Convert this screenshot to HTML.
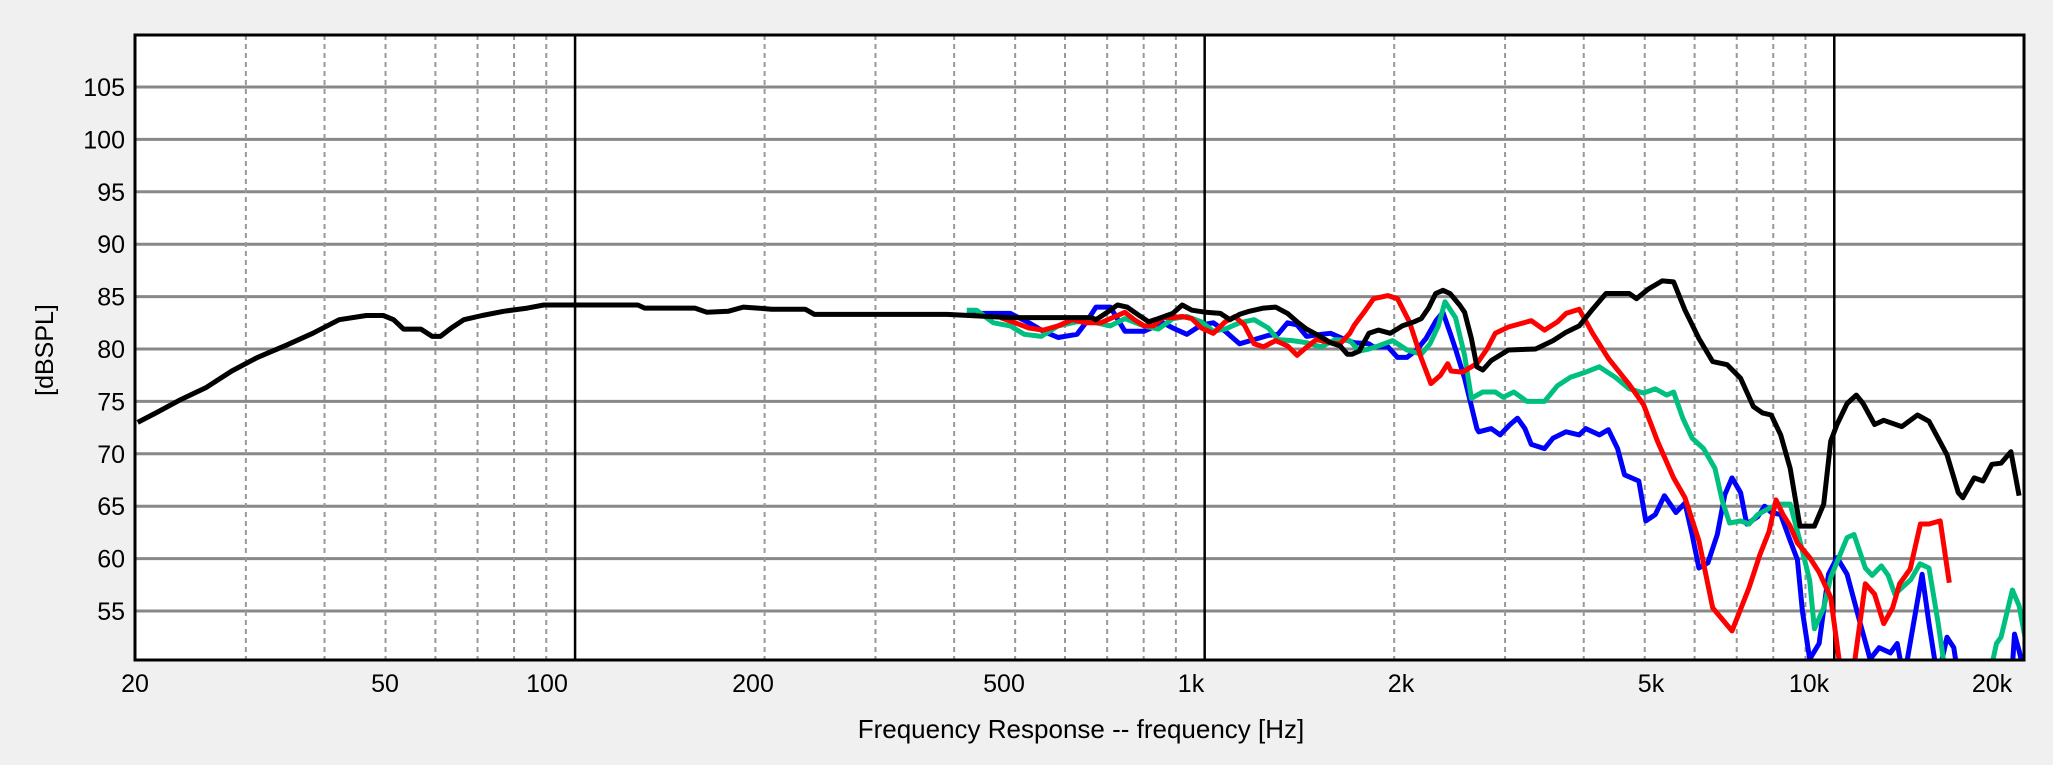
<!DOCTYPE html>
<html><head><meta charset="utf-8"><style>
html,body{margin:0;padding:0;background:#f0f0f0;}
svg{display:block;font-family:"Liberation Sans",sans-serif;}
</style></head><body>
<svg id="chart" width="2053" height="765" viewBox="0 0 2053 765" xmlns="http://www.w3.org/2000/svg">
<rect x="0" y="0" width="2053" height="765" fill="#f0f0f0"/>
<rect x="135" y="35" width="1889" height="625" fill="#fff"/>
<defs><clipPath id="clip"><rect x="135" y="35" width="1889" height="625"/></clipPath></defs>
<g id="grid"></g>
<g id="series" clip-path="url(#clip)"></g>
<rect x="135" y="35" width="1889" height="625" fill="none" stroke="#000" stroke-width="3"/>
<g id="labels" font-size="25" fill="#000"></g>
<text x="1081" y="738" text-anchor="middle" font-size="26">Frequency Response -- frequency [Hz]</text>
<text x="0" y="0" transform="translate(53,350) rotate(-90)" text-anchor="middle" font-size="25">[dBSPL]</text>
</svg>
<script>
const yTicks=[55,60,65,70,75,80,85,90,95,100,105];
const xTickLabels=["20","50","100","200","500","1k","2k","5k","10k","20k"];
const xTickLabelPos=[135,385,547,753,1004,1191,1401,1651,1809,1992];
const minorFreqs=[30,40,50,60,70,80,90,200,300,400,500,600,700,800,900,2000,3000,4000,5000,6000,7000,8000,9000];
const majorFreqs=[100,1000,10000];

const blackF=[20.2,21.6,23.5,25.9,28.5,31.3,34.9,38.3,42.2,46.6,49.6,51.5,53.4,56.9,59.3,61.1,63.6,66.6,71.2,77,84,89.2,125.8,129,155,162,175,185,195,205,232,240,390,491,554,661,672,696,727,753,787,815,844,890,921,954,1005,1059,1097,1136,1177,1240,1296,1354,1402,1452,1504,1585,1641,1685,1715,1760,1823,1888,1972,2060,2151,2208,2267,2328,2369,2390,2453,2540,2587,2652,2706,2765,2853,3037,3355,3576,3750,3935,4132,4340,4726,4852,5060,5330,5557,5794,6096,6410,6760,7100,7440,7690,7940,8220,8510,8820,9300,9620,9870,10100,10480,10840,11110,11590,11980,12800,13560,14140,15100,15740,16000,16680,17230,17800,18400,19080,19660,20150];
const blackV=[73.0,73.9,75.1,76.3,77.9,79.2,80.4,81.5,82.8,83.2,83.2,82.8,81.9,81.9,81.2,81.2,82.0,82.8,83.2,83.6,83.9,84.2,84.2,83.9,83.9,83.5,83.6,84.0,83.9,83.8,83.8,83.3,83.3,83.0,83.0,83.0,82.8,83.4,84.2,84.0,83.2,82.6,82.9,83.4,84.2,83.7,83.5,83.4,82.8,83.3,83.6,83.9,84.0,83.4,82.6,81.9,81.4,80.6,80.3,79.5,79.5,79.8,81.5,81.8,81.5,82.2,82.6,82.9,83.9,85.3,85.5,85.6,85.3,84.2,83.5,81.0,78.3,78.0,78.9,79.9,80.0,80.8,81.6,82.2,83.8,85.3,85.3,84.8,85.7,86.5,86.4,83.7,81.0,78.8,78.5,77.2,74.5,73.9,73.7,71.8,68.6,63.1,63.1,65.2,71.2,72.8,74.8,75.6,74.8,72.8,73.2,72.6,73.7,73.1,69.9,66.3,65.8,67.7,67.4,69.0,69.1,70.2,66.0];

const redF=[474,500,526,554,585,616,649,684,721,747,773,801,829,859,890,921,954,988,1032,1078,1116,1156,1198,1240,1296,1354,1402,1440,1504,1585,1641,1700,1730,1791,1855,1955,2024,2114,2208,2287,2369,2432,2462,2567,2652,2706,2808,2895,3037,3302,3465,3634,3750,3935,4132,4377,4726,4977,5238,5557,5794,6096,6410,6880,7320,7620,7880,8080,8290,8510,8740,9140,9460,9870,10300,10650,11200,11590,11980,12380,12700,13200,13700,14140,14730,15230,15740,16130,16950,17960,18400,19180,19660,20150];
const redV=[83.0,82.5,82.0,81.8,82.2,82.8,82.5,82.5,83.1,83.5,82.8,82.2,82.2,83.0,83.0,83.1,82.9,82.0,81.5,82.6,83.1,82.3,80.5,80.2,80.8,80.3,79.4,80.0,80.9,80.6,80.5,81.5,82.3,83.5,84.8,85.1,84.8,82.6,79.1,76.7,77.5,78.6,77.9,77.8,78.3,78.6,80.0,81.5,82.1,82.7,81.8,82.6,83.4,83.8,81.5,79.1,76.6,74.7,71.2,67.7,65.8,61.7,55.3,53.1,57.2,60.4,62.6,65.6,64.2,63.1,61.5,60.1,58.7,56.3,48.0,48.0,57.6,56.6,53.8,55.3,57.6,59.0,63.3,63.3,63.6,57.7];

const greenF=[419,434,462,491,517,550,585,627,661,708,747,801,844,890,937,988,1032,1078,1136,1198,1262,1307,1378,1452,1530,1613,1700,1760,1823,1888,1989,2096,2208,2280,2350,2408,2503,2587,2652,2765,2895,2980,3097,3250,3465,3634,3810,4031,4234,4490,4726,4977,5196,5418,5557,5746,5945,6200,6465,6640,6820,7100,7320,7560,7880,8220,8510,8820,9140,9300,9620,9870,10480,10750,11200,11490,11880,12180,12480,13230,13680,14140,14610,15100,17520,18100,18400,19180,19660,20150];
const greenV=[83.7,83.7,82.5,82.2,81.4,81.2,82.2,82.6,82.6,82.2,82.9,82.2,81.9,82.9,83.1,82.6,81.7,81.9,82.5,82.8,82.0,80.9,80.8,80.6,80.2,80.9,80.8,79.8,80.0,80.3,80.8,79.9,79.5,80.5,82.2,84.5,83.0,79.4,75.3,75.9,75.9,75.4,75.9,75.0,75.0,76.5,77.3,77.8,78.3,77.3,76.2,75.8,76.2,75.6,75.9,73.4,71.5,70.5,68.6,65.5,63.4,63.6,63.3,64.2,64.8,65.2,65.2,61.7,57.9,53.3,55.3,58.2,62.0,62.3,59.1,58.4,59.3,58.4,56.6,58.0,59.5,59.1,54.0,48.0,48.0,51.9,52.5,57.0,55.5,52.1];

const blueF=[419,474,491,526,554,585,627,649,672,708,747,801,859,890,937,988,1032,1078,1136,1198,1262,1307,1354,1402,1452,1530,1585,1670,1730,1823,1855,1955,2024,2096,2170,2247,2330,2390,2462,2503,2587,2706,2725,2853,2946,3056,3140,3226,3302,3465,3576,3750,3935,4031,4234,4377,4527,4644,4893,5019,5196,5373,5603,5794,5945,6096,6300,6520,6700,6880,7100,7260,7560,7750,7940,8220,8510,8740,8900,9140,9460,9790,10100,10480,11000,11400,11780,12280,12590,12900,13790,14140,14600,15100,15480,15800,19100,19330,19660,20150];
const blueV=[83.4,83.4,83.4,82.5,81.7,81.1,81.4,82.6,84.0,84.0,81.7,81.7,82.5,82.0,81.4,82.3,82.5,81.7,80.5,80.9,81.3,81.4,82.5,82.3,81.2,81.4,81.5,80.9,80.6,80.5,80.2,80.2,79.2,79.2,79.9,81.0,82.7,83.5,81.3,80.0,77.2,72.4,72.1,72.4,71.8,72.8,73.4,72.4,70.9,70.5,71.5,72.1,71.8,72.4,71.8,72.3,70.5,68.0,67.4,63.6,64.2,66.0,64.4,65.3,62.3,59.1,59.6,62.3,66.1,67.7,66.3,63.3,64.0,65.0,64.4,64.2,61.7,59.9,55.0,50.4,51.9,58.5,60.1,58.5,53.8,50.4,51.5,51.0,51.9,48.5,58.5,53.8,48.5,52.5,51.5,48.0,48.0,52.8,51.2,48.5];

const L=135,R=2024,T=35,B=660;
function xs(f){return L+Math.log10(f/20)*629.6;}
function ys(v){return 87+(105-v)*10.48;}
const NS="http://www.w3.org/2000/svg";
const grid=document.getElementById('grid');
yTicks.forEach(v=>{
  const l=document.createElementNS(NS,'line');
  l.setAttribute('x1',L);l.setAttribute('x2',R);l.setAttribute('y1',ys(v));l.setAttribute('y2',ys(v));
  l.setAttribute('stroke','#888');l.setAttribute('stroke-width','3');
  
  
  grid.appendChild(l);
});
minorFreqs.forEach(f=>{
  const l=document.createElementNS(NS,'line');
  l.setAttribute('x1',xs(f));l.setAttribute('x2',xs(f));l.setAttribute('y1',T);l.setAttribute('y2',B);
  l.setAttribute('stroke','#999');l.setAttribute('stroke-width','2');l.setAttribute('stroke-dasharray','5,4');
  
  
  grid.appendChild(l);
});
majorFreqs.forEach(f=>{
  const l=document.createElementNS(NS,'line');
  l.setAttribute('x1',xs(f));l.setAttribute('x2',xs(f));l.setAttribute('y1',T);l.setAttribute('y2',B);
  l.setAttribute('stroke','#000');l.setAttribute('stroke-width','2.5');
  
  
  grid.appendChild(l);
});
const series=document.getElementById('series');
function draw(F,V,color,name){
  const p=document.createElementNS(NS,'polyline');
  p.setAttribute('points',F.map((f,i)=>xs(f).toFixed(1)+','+ys(V[i]).toFixed(1)).join(' '));
  p.setAttribute('fill','none');p.setAttribute('stroke',color);p.setAttribute('stroke-width','5');
  p.setAttribute('stroke-linejoin','round');
  
  
  series.appendChild(p);
}
draw(blueF,blueV,'#0000ff','blue-response-line');
draw(greenF,greenV,'#00c080','green-response-line');
draw(redF,redV,'#ff0000','red-response-line');
draw(blackF,blackV,'#000000','black-response-line');
const labels=document.getElementById('labels');
yTicks.forEach(v=>{
  const t=document.createElementNS(NS,'text');
  t.setAttribute('x',125);t.setAttribute('y',ys(v)+9);t.setAttribute('text-anchor','end');
  t.textContent=v;
  
  
  labels.appendChild(t);
});
xTickLabels.forEach((s,i)=>{
  const t=document.createElementNS(NS,'text');
  t.setAttribute('x',xTickLabelPos[i]);t.setAttribute('y',692);t.setAttribute('text-anchor','middle');
  t.textContent=s;
  
  
  labels.appendChild(t);
});
</script>
</body></html>
